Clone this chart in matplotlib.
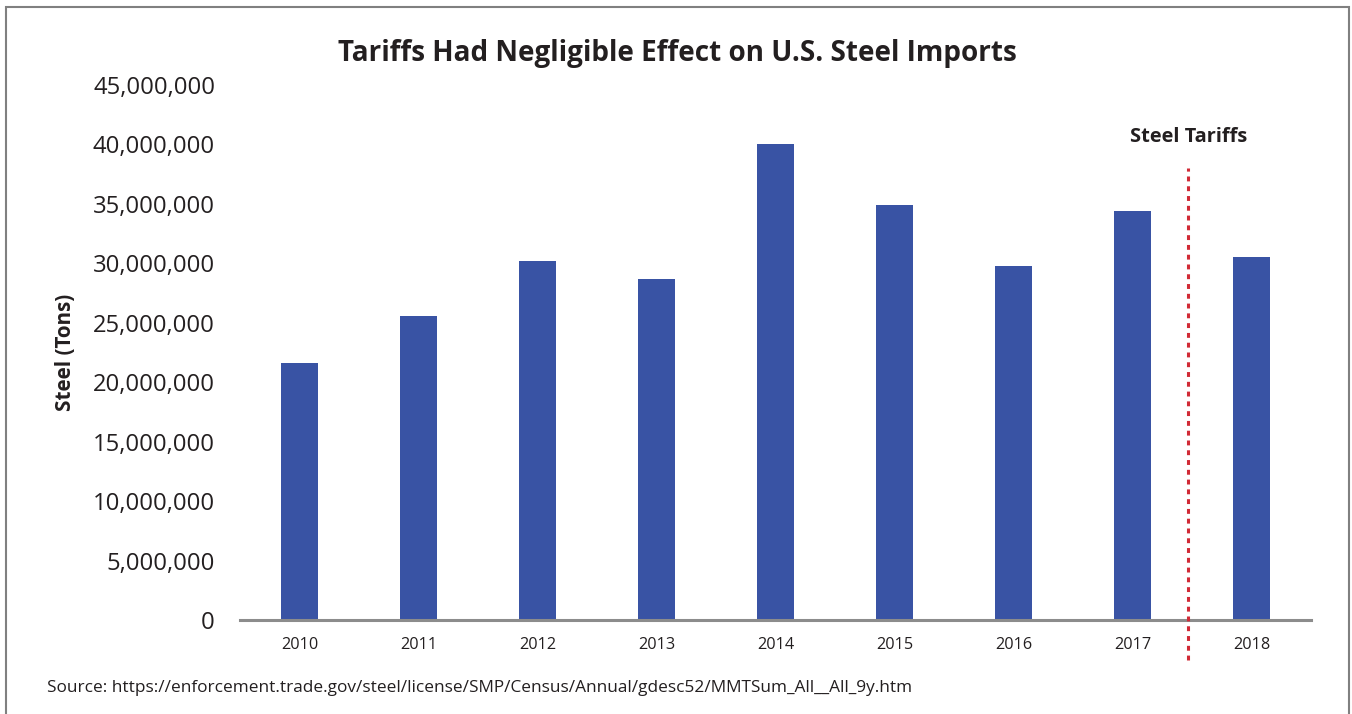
import matplotlib
matplotlib.use("Agg")
import matplotlib.pyplot as plt
from matplotlib.patches import Rectangle
from matplotlib.ticker import FuncFormatter

years = ["2010", "2011", "2012", "2013", "2014", "2015", "2016", "2017", "2018"]
imports = [21.6e6, 25.6e6, 30.2e6, 28.7e6, 40.0e6, 34.9e6, 29.8e6, 34.4e6, 30.5e6]
yticks = [0, 5e6, 10e6, 15e6, 20e6, 25e6, 30e6, 35e6, 40e6, 45e6]
tariff_pos = 7.47
title = "Tariffs Had Negligible Effect on U.S. Steel Imports"
source = "Source: https://enforcement.trade.gov/steel/license/SMP/Census/Annual/gdesc52/MMTSum_All__All_9y.htm"

plt.rcParams['font.family'] = ['Open Sans', 'DejaVu Sans']
txt = '#231F20'
W, H = 1352, 714
fig = plt.figure(figsize=(W/100, H/100), dpi=100)

ax = fig.add_axes([240/W, 1-620/H, (1311-240)/W, (620-85)/H])
x = list(range(len(years)))
ax.bar(x, imports, width=0.31, color='#3953A4', zorder=2)
ax.set_xlim(-0.5, len(years)-0.5)
ax.set_ylim(0, 45e6)
ax.set_yticks(yticks)
ax.yaxis.set_major_formatter(FuncFormatter(lambda v, p: f"{int(v):,}"))
ax.set_xticks(x)
ax.set_xticklabels(years)
for s in ['top', 'right', 'left']:
    ax.spines[s].set_visible(False)
ax.spines['bottom'].set_color('#8C8C8C')
ax.spines['bottom'].set_linewidth(2.2)
ax.tick_params(axis='y', length=0, pad=18, labelsize=17.1, labelcolor=txt)
ax.tick_params(axis='x', length=0, pad=12, labelsize=11.7, labelcolor=txt)
ax.set_ylabel("Steel (Tons)", fontsize=14.9, fontweight='bold', color=txt, labelpad=12)

# tariff line
ax.plot([tariff_pos, tariff_pos], [-3.4e6, 38.0e6], color='#D12A36', lw=2.2,
        linestyle=(0, (1.6, 1.6)), clip_on=False, zorder=3)
ax.text(tariff_pos, 40.6e6, "Steel Tariffs", ha='center', va='center', fontsize=14.4,
        fontweight='bold', color=txt)

fig.text(677/W, 1-53/H, title, ha='center', va='center', fontsize=20.1,
         fontweight='bold', color=txt)
fig.text(47/W, 1-688/H, source, ha='left', va='center', fontsize=12.4, color=txt)

fig.patches.append(Rectangle((6/W, -0.05), (1349-6)/W, (1-7/H)+0.05,
                             transform=fig.transFigure, fill=False,
                             edgecolor='#808080', lw=1.5))

fig.savefig("out.png", dpi=100)
